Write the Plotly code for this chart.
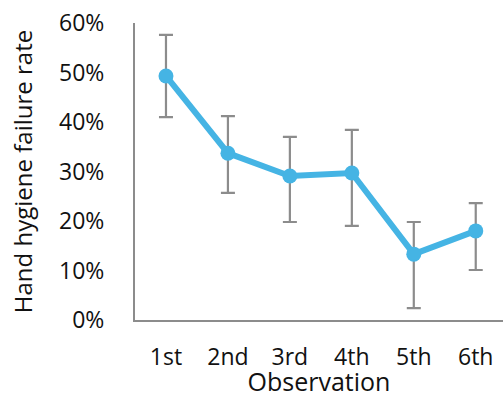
import plotly.graph_objects as go

categories = ["1st", "2nd", "3rd", "4th", "5th", "6th"]
failure_rate = [0.493, 0.337, 0.291, 0.297, 0.133, 0.180]
upper_bound = [0.576, 0.412, 0.370, 0.384, 0.198, 0.236]
lower_bound = [0.410, 0.257, 0.198, 0.190, 0.024, 0.101]
y_tick_vals = [0, 0.1, 0.2, 0.3, 0.4, 0.5, 0.6]
y_tick_text = ["0%", "10%", "20%", "30%", "40%", "50%", "60%"]

err_plus = [u - v for u, v in zip(upper_bound, failure_rate)]
err_minus = [v - l for v, l in zip(failure_rate, lower_bound)]

fig = go.Figure()
fig.add_trace(go.Scatter(
    x=categories, y=failure_rate, mode="lines+markers",
    line=dict(color="#45B4E4", width=6),
    marker=dict(color="#45B4E4", size=15),
    error_y=dict(type="data", symmetric=False, array=err_plus, arrayminus=err_minus,
                 color="#8C8C8C", thickness=2.2, width=7),
    showlegend=False,
))

font = "Open Sans"
fig.update_layout(
    width=503, height=398,
    margin=dict(l=135, r=0, t=23, b=78),
    paper_bgcolor="white", plot_bgcolor="white",
    font=dict(family=font, color="#111111", size=23),
)
fig.update_xaxes(
    range=[-0.5, 5.44], showgrid=False, zeroline=False, automargin=False,
    showline=True, linecolor="#8C8C8C", linewidth=2,
    ticks="outside", ticklen=15, tickcolor="rgba(0,0,0,0)",
    tickfont=dict(size=23, family=font),
    title=dict(text="Observation", font=dict(size=25, family=font), standoff=4),
)
fig.update_yaxes(
    range=[0, 0.6], tickvals=y_tick_vals, ticktext=y_tick_text,
    showgrid=False, zeroline=False, automargin=False,
    showline=True, linecolor="#8C8C8C", linewidth=2,
    ticks="outside", ticklen=24, tickcolor="rgba(0,0,0,0)",
    tickfont=dict(size=23, family=font),
    title=dict(text="Hand hygiene failure rate", font=dict(size=24, family=font), standoff=20),
)

fig.write_html("out.html", config={"displayModeBar": False},
               post_script="document.body.style.margin='0';document.body.style.overflow='hidden';")
